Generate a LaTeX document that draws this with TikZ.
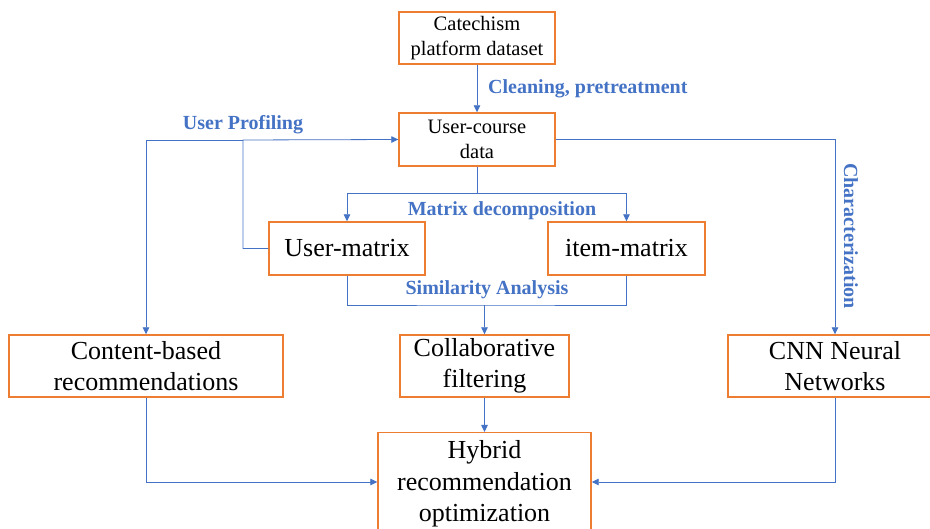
\documentclass[tikz,border=0pt]{standalone}
\usepackage{fontspec}
\setmainfont{Liberation Serif}
\usetikzlibrary{arrows.meta}
\definecolor{boxorange}{HTML}{ED7D31}
\definecolor{flowblue}{HTML}{4472C4}
\begin{document}
\begin{tikzpicture}[x=1pt,y=-1pt,
  box/.style={draw=boxorange,line width=1.4pt,fill=white,inner sep=0pt,align=center,text=black},
  smallbox/.style={box,font=\fontsize{20.5}{25}\selectfont},
  bigbox/.style={box,font=\fontsize{26}{31.5}\selectfont},
  conn/.style={draw=flowblue,line width=0.8pt,-{Triangle[length=7pt,width=6.5pt]}},
  line/.style={draw=flowblue,line width=0.8pt},
  lbl/.style={text=flowblue,font=\fontsize{20}{24}\bfseries\selectfont,inner sep=0pt}]
\useasboundingbox (0,0) rectangle (930,529);
\clip (0,0) rectangle (930,529);

% process boxes
\node[smallbox,minimum width=156pt,minimum height=52pt] (cat) at (477,38) {Catechism\\platform dataset};
\node[smallbox,minimum width=156pt,minimum height=53pt] (uc) at (477,139.5) {User-course\\data};
\node[bigbox,minimum width=156pt,minimum height=53pt] (um) at (347,248.5) {User-matrix};
\node[bigbox,minimum width=157pt,minimum height=53pt] (im) at (626.5,248.5) {item-matrix};
\node[bigbox,minimum width=274pt,minimum height=62pt] (cb) at (146,366) {Content-based\\recommendations};
\node[bigbox,minimum width=169pt,minimum height=62pt] (cf) at (484.5,366) {Collaborative\\filtering};
\node[bigbox,minimum width=214pt,minimum height=62pt] (cnn) at (835,366) {CNN Neural\\Networks};
\node[bigbox,minimum width=213pt,inner ysep=8pt,anchor=north] (hy) at (484.5,432) {Hybrid\\recommendation\\optimization};

% junction points
\coordinate (upj) at (243,140);
\coordinate (md) at (477,193);
\coordinate (sa) at (484.5,305);
\coordinate (hj) at (484.5,482);

% connectors
\draw[conn] (cat.south) -- (uc.north);
\draw[conn] (um.west) -| (upj) -- (uc.west);
\draw[conn] (upj) -| (cb.north);
\draw[conn] (uc.east) -| (cnn.north);
\draw[line] (uc.south) -- (md);
\draw[conn] (md) -| (um.north);
\draw[conn] (md) -| (im.north);
\draw[line] (um.south) |- (sa) -| (im.south);
\draw[conn] (sa) -- (cf.north);
\draw[conn] (cf.south) -- (hy.north);
\draw[conn] (cb.south) |- (hy.west |- hj);
\draw[conn] (cnn.south) |- (hy.east |- hj);

% connector labels
\node[lbl,anchor=west] (lclean) at (488,89) {Cleaning, pretreatment};
\node[lbl] (lprof) at (243,125) {User Profiling};
\node[lbl] (lmd) at (502,211) {Matrix decomposition};
\node[lbl] (lsa) at (487,290) {Similarity Analysis};
\node[lbl,rotate=-90] (lchar) at (851,236) {Characterization};
\end{tikzpicture}
\end{document}
